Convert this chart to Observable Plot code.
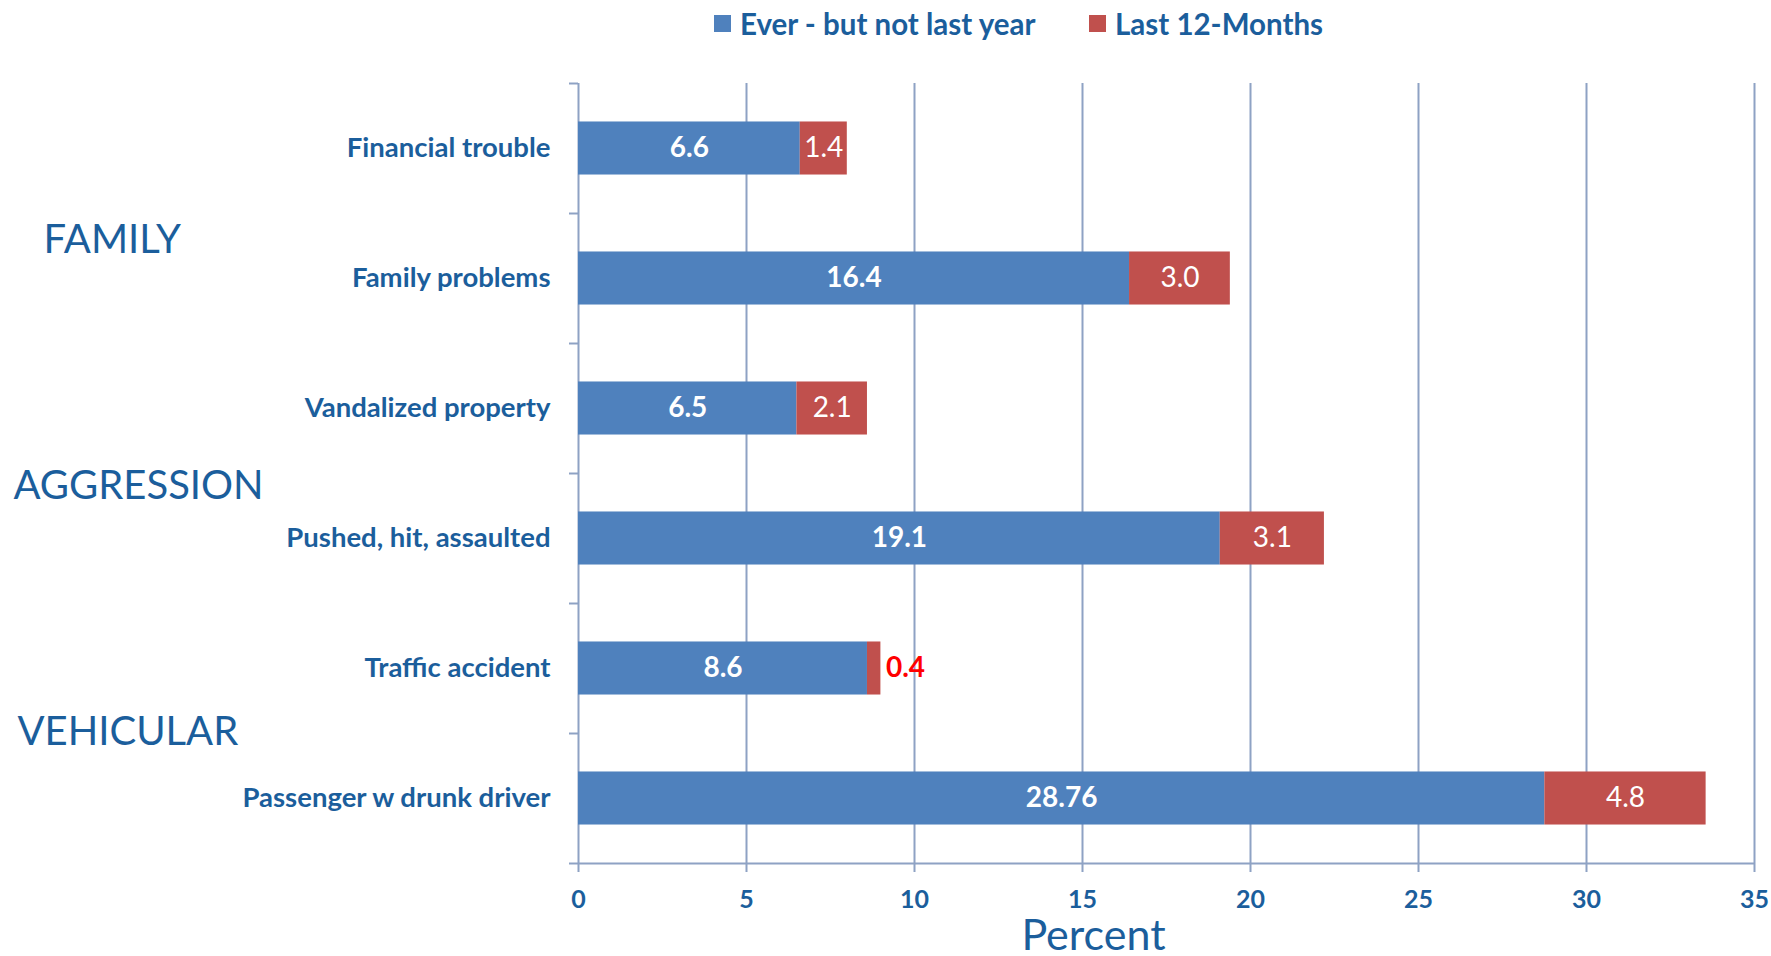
<!DOCTYPE html>
<html>
<head>
<meta charset="utf-8">
<script src="https://cdn.jsdelivr.net/npm/d3@7"></script>
<script src="https://cdn.jsdelivr.net/npm/@observablehq/plot@0.6"></script>
<style>
  html, body { margin: 0; padding: 0; background: #fff; }
  body { width: 1771px; height: 956px; position: relative; font-family: Lato, "Open Sans", sans-serif; overflow: hidden; }
  #legend { height: 55px; position: relative; }
  .leg { position: absolute; top: 6px; display: flex; align-items: center; font-weight: bold; font-size: 29.5px; color: #1B5E9C; white-space: nowrap; }
  .sw { width: 17px; height: 17px; margin-right: 9px; display: inline-block; }
  #chart svg { display: block; }
</style>
</head>
<body>
<div id="legend"></div>
<div id="chart"></div>
<script>
// ---- data ----
const categories = ["Financial trouble", "Family problems", "Vandalized property", "Pushed, hit, assaulted", "Traffic accident", "Passenger w drunk driver"];
const everValues = [6.6, 16.4, 6.5, 19.1, 8.6, 28.76];
const everLabels = ["6.6", "16.4", "6.5", "19.1", "8.6", "28.76"];
const lastValues = [1.4, 3.0, 2.1, 3.1, 0.4, 4.8];
const lastLabels = ["1.4", "3.0", "2.1", "3.1", "0.4", "4.8"];
const seriesNames = ["Ever - but not last year", "Last 12-Months"];
const seriesColors = ["#4F81BD", "#C0504D"];
const xTicks = [0, 5, 10, 15, 20, 25, 30, 35];
const groupLabels = ["FAMILY", "AGGRESSION", "VEHICULAR"];
const groupFirst = ["Financial trouble", "Vandalized property", "Traffic accident"];
const xLabel = "Percent";

// ---- style ----
const textColor = "#1B5E9C";
const gridColor = "#8EA2C4";

// legend
const legend = document.getElementById("legend");
const legLeft = [714, 1089];
seriesNames.forEach((s, i) => {
  const d = document.createElement("div");
  d.className = "leg";
  d.style.left = legLeft[i] + "px";
  d.innerHTML = `<span class="sw" style="background:${seriesColors[i]}"></span>${s}`;
  legend.appendChild(d);
});

const rows = [];
categories.forEach((c, i) => {
  rows.push({cat: c, series: seriesNames[0], value: everValues[i], label: everLabels[i]});
  rows.push({cat: c, series: seriesNames[1], value: lastValues[i], label: lastLabels[i]});
});

const W = 1771, H = 901, mT = 28, mB = 93, mL = 578, mR = 17;
const bw = (H - mT - mB) / categories.length;
const barInset = bw * 0.296;
const xDomain = [xTicks[0], xTicks[xTicks.length - 1]];

const stacked = Plot.stackX({x: "value", y: "cat", order: null});
const groupOffsets = [[43, 92], [13, 78], [17, 64]];

const plot = Plot.plot({
  width: W, height: H,
  marginTop: mT, marginBottom: mB, marginLeft: mL, marginRight: mR,
  style: {fontFamily: "Lato, 'Open Sans', sans-serif", overflow: "visible", background: "#fff"},
  x: {domain: xDomain, ticks: xTicks},
  y: {domain: categories, padding: 0},
  color: {domain: seriesNames, range: seriesColors},
  marks: [
    Plot.ruleX(xTicks, {stroke: gridColor, strokeWidth: 2, insetBottom: -9}),
    Plot.ruleY([categories[categories.length - 1]], {dy: bw / 2, x1: xDomain[0], x2: xDomain[1], stroke: gridColor, strokeWidth: 2}),
    Plot.ruleY(categories, {dy: -bw / 2, x1: xDomain[0], x2: xDomain[0], insetLeft: -9, stroke: gridColor, strokeWidth: 2}),
    Plot.ruleY([categories[categories.length - 1]], {dy: bw / 2, x1: xDomain[0], x2: xDomain[0], insetLeft: -9, stroke: gridColor, strokeWidth: 2}),
    Plot.barX(rows, {...stacked, fill: "series", insetTop: barInset, insetBottom: barInset}),
    Plot.text(rows, Plot.stackX({x: "value", y: "cat", text: d => d.series === seriesNames[0] ? d.label : "", fill: "white", fontSize: 28, fontWeight: "bold"})),
    Plot.text(rows, Plot.stackX({x: "value", y: "cat", text: d => (d.series === seriesNames[1] && d.value >= 1) ? d.label : "", fill: "white", fontSize: 28})),
    Plot.text(rows.filter(d => d.series === seriesNames[1] && d.value < 1), {
      x: d => everValues[categories.indexOf(d.cat)] + d.value, y: "cat",
      text: "label", fill: "#FF0000", fontSize: 28, fontWeight: "bold", textAnchor: "start", dx: 5
    }),
    Plot.axisY({tickSize: 0, tickPadding: 28, fontSize: 27.5, fontWeight: "bold", color: textColor, label: null}),
    Plot.axisX({ticks: xTicks, tickSize: 0, tickPadding: 27, fontSize: 25, fontWeight: "bold", color: textColor, label: null}),
    Plot.text([xLabel], {text: d => d, frameAnchor: "bottom", dx: -73, dy: 86, fontSize: 43, fill: textColor}),
    ...groupLabels.map((g, i) => Plot.text([g], {text: d => d, y: [groupFirst[i]], frameAnchor: "left", textAnchor: "start", dx: groupOffsets[i][0] - mL, dy: groupOffsets[i][1], fontSize: 40, fill: textColor}))
  ]
});
document.getElementById("chart").appendChild(plot);
</script>
</body>
</html>
